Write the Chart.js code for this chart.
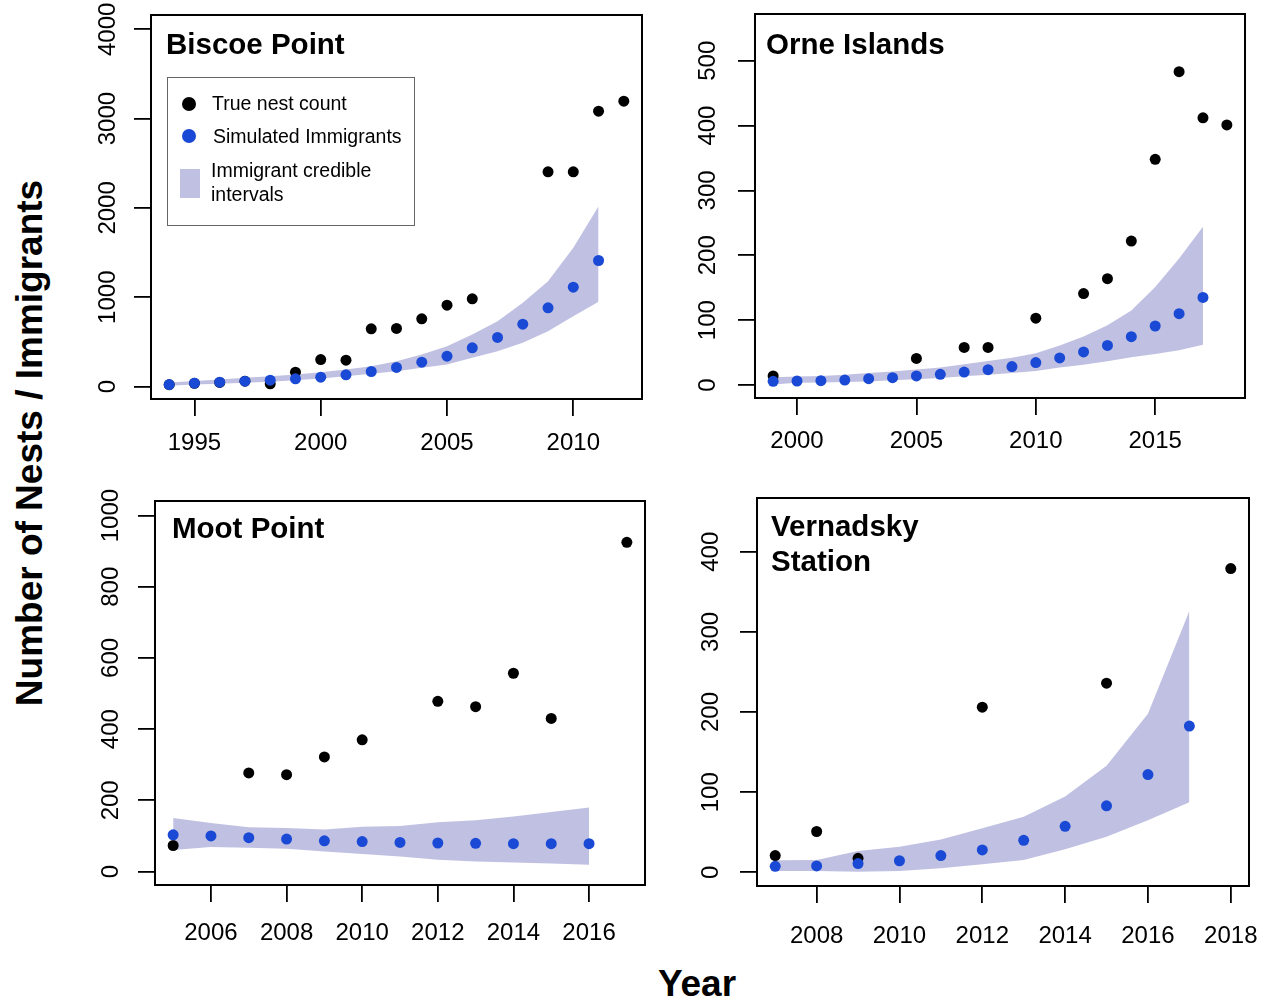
<!DOCTYPE html>
<html>
<head>
<meta charset="utf-8">
<script src="https://cdn.jsdelivr.net/npm/chart.js@4/dist/chart.umd.min.js"></script>
<style>
  html, body { margin: 0; padding: 0; background: #fff; }
  body { width: 1270px; height: 1003px; position: relative; overflow: hidden;
         font-family: "Liberation Sans", Arial, Helvetica, sans-serif; color: #000; }
  canvas { position: absolute; }
  .title { position: absolute; font-weight: bold; font-size: 29.5px; line-height: 35px; white-space: nowrap; }
  .legend { position: absolute; left: 167px; top: 77px; width: 248px; height: 149px;
            border: 1px solid #666; box-sizing: border-box; background: #fff; }
  .lg { position: absolute; font-size: 19.5px; white-space: nowrap; line-height: 24px; }
  .dot { position: absolute; border-radius: 50%; }
  .ytitle { position: absolute; font-weight: bold; font-size: 37px; white-space: nowrap;
            left: 30px; top: 443px; transform: translate(-50%, -50%) rotate(-90deg); }
  .xtitle { position: absolute; font-weight: bold; font-size: 37px; white-space: nowrap;
            left: 697px; top: 984px; transform: translate(-50%, -50%); }
</style>
</head>
<body>

<canvas id="c1"></canvas>
<canvas id="c2"></canvas>
<canvas id="c3"></canvas>
<canvas id="c4"></canvas>

<div class="title" style="left:166px; top:26px;">Biscoe Point</div>
<div class="title" style="left:766px; top:26px;">Orne Islands</div>
<div class="title" style="left:172px; top:510px;">Moot Point</div>
<div class="title" style="left:771px; top:508px;">Vernadsky<br>Station</div>

<div class="legend"></div>
<div class="dot" style="left:182px; top:97px; width:14px; height:14px; background:#000;"></div>
<div class="lg" style="left:212px; top:91px;">True nest count</div>
<div class="dot" style="left:182px; top:129px; width:14px; height:14px; background:#1a4ad5;"></div>
<div class="lg" style="left:213px; top:124px;">Simulated Immigrants</div>
<div style="position:absolute; left:180px; top:169px; width:20px; height:29px; background:#c0c1e2;"></div>
<div class="lg" style="left:211px; top:158px;">Immigrant credible</div>
<div class="lg" style="left:211px; top:182px;">intervals</div>

<div class="ytitle">Number of Nests / Immigrants</div>
<div class="xtitle">Year</div>

<script>
// ---- Biscoe Point ----
const biscoeYears = [1994, 1995, 1996, 1997, 1998, 1999, 2000, 2001, 2002, 2003,
                     2004, 2005, 2006, 2007, 2008, 2009, 2010, 2011, 2012];
const biscoeNests = [20, 35, 45, 60, 30, 160, 302, 295, 646, 650,
                     758, 910, 982, null, null, 2404, 2404, 3083, 3195];
const biscoeSimYears = [1994, 1995, 1996, 1997, 1998, 1999, 2000, 2001, 2002,
                        2003, 2004, 2005, 2006, 2007, 2008, 2009, 2010, 2011];
const biscoeSim  = [22, 37, 48, 59, 71, 86, 104, 131, 168, 213, 272, 340, 433, 549, 698, 881, 1112, 1411];
const biscoeLow  = [8, 22, 32, 41, 53, 71, 90, 116, 142, 172, 209, 246, 321, 395, 489, 619, 787, 948];
const biscoeHigh = [45, 62, 78, 98, 115, 134, 160, 190, 228, 284, 358, 452, 582, 731, 937, 1179, 1553, 2019];
const biscoeXTicks = [1995, 2000, 2005, 2010];
const biscoeYTicks = [0, 1000, 2000, 3000, 4000];

// ---- Orne Islands ----
const orneYears = [1999, 2000, 2001, 2002, 2003, 2004, 2005, 2006, 2007, 2008,
                   2009, 2010, 2011, 2012, 2013, 2014, 2015, 2016, 2017, 2018];
const orneNests = [14, null, null, null, null, null, 41, null, 58, 58,
                   null, 103, null, 141, 164, 222, 348, 483, 412, 401];
const orneSimYears = [1999, 2000, 2001, 2002, 2003, 2004, 2005, 2006, 2007, 2008,
                      2009, 2010, 2011, 2012, 2013, 2014, 2015, 2016, 2017];
const orneSim  = [5.7, 6.2, 6.7, 7.7, 9.8, 11.4, 14, 16.5, 20, 23.7, 28.4, 34.6, 41.7, 51, 61, 74.6, 91, 110, 135];
const orneLow  = [1, 3.5, 4, 4.5, 5.5, 7.3, 8.8, 10.8, 13.4, 16, 18.5, 21.6, 27, 31.4, 36.6, 43, 48, 53.5, 62];
const orneHigh = [12, 13, 14, 16, 18.5, 21, 24, 27, 32, 37, 42, 49, 61, 75, 92, 115, 151, 195, 244];
const orneXTicks = [2000, 2005, 2010, 2015];
const orneYTicks = [0, 100, 200, 300, 400, 500];

// ---- Moot Point ----
const mootYears = [2005, 2006, 2007, 2008, 2009, 2010, 2011, 2012, 2013, 2014, 2015, 2016, 2017];
const mootNests = [73, null, 277, 272, 322, 370, null, 478, 463, 557, 430, null, 925];
const mootSimYears = [2005, 2006, 2007, 2008, 2009, 2010, 2011, 2012, 2013, 2014, 2015, 2016];
const mootSim  = [103, 100, 95, 91, 86, 84, 81.5, 80, 79, 78, 78, 78];
const mootLow  = [60, 68.6, 67, 64, 56, 49, 42, 33, 28, 25, 22.5, 19];
const mootHigh = [150, 136, 124, 122, 118, 125.6, 128, 138, 144, 154.5, 167, 180];
const mootXTicks = [2006, 2008, 2010, 2012, 2014, 2016];
const mootYTicks = [0, 200, 400, 600, 800, 1000];

// ---- Vernadsky Station ----
const vernYears = [2007, 2008, 2009, 2010, 2011, 2012, 2013, 2014, 2015, 2016, 2017, 2018];
const vernNests = [21, 51, 17.5, null, null, 206, null, null, 236, null, null, 379];
const vernSimYears = [2007, 2008, 2009, 2010, 2011, 2012, 2013, 2014, 2015, 2016, 2017];
const vernSim  = [7.5, 8, 11, 14.5, 21, 28, 40, 57.5, 83, 122, 182.5];
const vernLow  = [1.6, 1.6, 0.8, 1.6, 5, 10, 15.4, 28.7, 44.5, 65, 87.5];
const vernHigh = [15, 15.4, 26.6, 32, 41, 55, 69.5, 94.5, 133, 198, 326];
const vernXTicks = [2008, 2010, 2012, 2014, 2016, 2018];
const vernYTicks = [0, 100, 200, 300, 400];

const FONT = '"Liberation Sans", Arial, Helvetica, sans-serif';
const TICK_FONT_SIZE = 24;
const TICK_LEN = 17;
const BLUE = '#1a4ad5';
const BAND = '#c0c1e2';
const DOT_R = 5.5;

function pairs(xs, ys) {
  const out = [];
  xs.forEach((x, i) => { if (ys[i] !== null && ys[i] !== undefined) out.push({ x: x, y: ys[i] }); });
  return out;
}

const measureCtx = document.createElement('canvas').getContext('2d');
function textWidth(s) {
  measureCtx.font = TICK_FONT_SIZE + 'px ' + FONT;
  return measureCtx.measureText(s).width;
}

// full frame around the plotting region
const frame = {
  id: 'frame',
  afterDraw(chart) {
    const a = chart.chartArea, ctx = chart.ctx;
    ctx.save();
    ctx.strokeStyle = '#000';
    ctx.lineWidth = 2;
    ctx.strokeRect(a.left, a.top, a.right - a.left, a.bottom - a.top);
    ctx.restore();
  }
};

const Y_AXIS_W = 70, X_AXIS_H = 70, PAD = 20;

function noOverflowPadding(s) {
  s.paddingTop = 0; s.paddingBottom = 0; s.paddingLeft = 0; s.paddingRight = 0;
}

function makePanel(id, box, p) {
  const cv = document.getElementById(id);
  const left = box.l - Y_AXIS_W, top = box.t - PAD;
  const w = box.r + PAD - left, h = box.b + X_AXIS_H - top;
  cv.style.left = left + 'px';
  cv.style.top = top + 'px';
  cv.width = w; cv.height = h;

  const widest = Math.max(...p.yTicks.map(v => textWidth(String(v))));
  const yPad = p.yGap - TICK_LEN - widest / 2;

  new Chart(cv, {
    type: 'scatter',
    data: {
      datasets: [
        { label: 'sim', data: pairs(p.simYears, p.sim), order: 0,
          pointRadius: DOT_R, pointBackgroundColor: BLUE, pointBorderWidth: 0, showLine: false },
        { label: 'nests', data: pairs(p.years, p.nests), order: 1,
          pointRadius: DOT_R, pointBackgroundColor: '#000', pointBorderWidth: 0, showLine: false },
        { label: 'low', data: pairs(p.simYears, p.low), order: 3,
          showLine: true, pointRadius: 0, borderWidth: 0, borderColor: 'rgba(0,0,0,0)',
          tension: 0, fill: false },
        { label: 'high', data: pairs(p.simYears, p.high), order: 2,
          showLine: true, pointRadius: 0, borderWidth: 0, borderColor: 'rgba(0,0,0,0)',
          tension: 0, fill: 2, backgroundColor: BAND }
      ]
    },
    options: {
      responsive: false,
      animation: false,
      events: [],
      layout: { autoPadding: false, padding: { left: 0, top: PAD, right: PAD, bottom: 0 } },
      plugins: {
        legend: { display: false },
        tooltip: { enabled: false },
        filler: { drawTime: 'beforeDatasetsDraw' }
      },
      scales: {
        x: {
          type: 'linear', min: p.xMin, max: p.xMax,
          afterBuildTicks(s) { s.ticks = p.xTicks.map(v => ({ value: v })); },
          afterFit(s) { s.height = X_AXIS_H; noOverflowPadding(s); },
          grid: { display: true, drawOnChartArea: false, drawTicks: true, tickLength: TICK_LEN,
                  color: '#000', lineWidth: 1.8 },
          border: { display: true, color: '#000', width: 2 },
          ticks: { autoSkip: false, maxRotation: 0, minRotation: 0, padding: p.xPad, color: '#000',
                   font: { family: FONT, size: TICK_FONT_SIZE },
                   callback: v => String(v) }
        },
        y: {
          type: 'linear', min: p.yMin, max: p.yMax,
          afterBuildTicks(s) { s.ticks = p.yTicks.map(v => ({ value: v })); },
          afterFit(s) { s.width = Y_AXIS_W; noOverflowPadding(s); },
          grid: { display: true, drawOnChartArea: false, drawTicks: true, tickLength: TICK_LEN,
                  color: '#000', lineWidth: 1.8 },
          border: { display: true, color: '#000', width: 2 },
          ticks: { autoSkip: false, minRotation: 90, maxRotation: 90, crossAlign: 'center',
                   padding: yPad, color: '#000', font: { family: FONT, size: TICK_FONT_SIZE },
                   callback: v => String(v) }
        }
      }
    },
    plugins: [frame]
  });
}

makePanel('c1', { l: 151, t: 15, r: 642, b: 399 }, {
  years: biscoeYears, nests: biscoeNests, simYears: biscoeSimYears,
  sim: biscoeSim, low: biscoeLow, high: biscoeHigh,
  xTicks: biscoeXTicks, yTicks: biscoeYTicks,
  xMin: 1993.28, xMax: 2012.72, xPad: 12.5,
  yMin: -140, yMax: 4160, yGap: 43
});

makePanel('c2', { l: 755, t: 14, r: 1245, b: 398 }, {
  years: orneYears, nests: orneNests, simYears: orneSimYears,
  sim: orneSim, low: orneLow, high: orneHigh,
  xTicks: orneXTicks, yTicks: orneYTicks,
  xMin: 1998.24, xMax: 2018.76, xPad: 12,
  yMin: -20, yMax: 572, yGap: 46.5
});

makePanel('c3', { l: 155, t: 501, r: 645, b: 885 }, {
  years: mootYears, nests: mootNests, simYears: mootSimYears,
  sim: mootSim, low: mootLow, high: mootHigh,
  xTicks: mootXTicks, yTicks: mootYTicks,
  xMin: 2004.52, xMax: 2017.48, xPad: 16.5,
  yMin: -38, yMax: 1041, yGap: 44
});

makePanel('c4', { l: 757, t: 498, r: 1249, b: 886 }, {
  years: vernYears, nests: vernNests, simYears: vernSimYears,
  sim: vernSim, low: vernLow, high: vernHigh,
  xTicks: vernXTicks, yTicks: vernYTicks,
  xMin: 2006.56, xMax: 2018.44, xPad: 18.5,
  yMin: -17, yMax: 467, yGap: 46
});
</script>
</body>
</html>
